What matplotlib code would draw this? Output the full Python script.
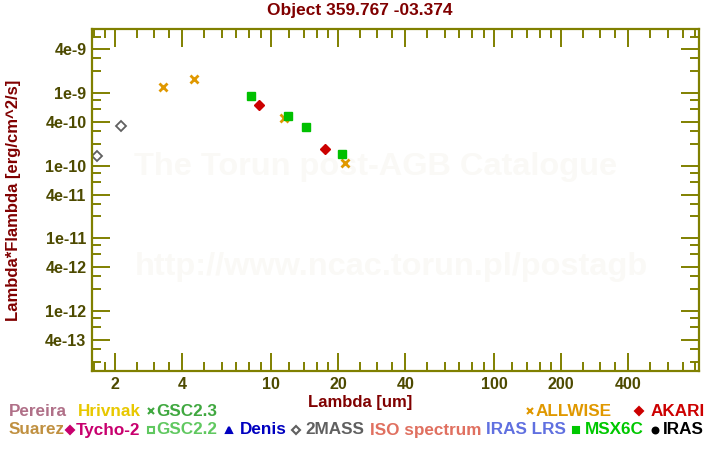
import matplotlib
matplotlib.use('Agg')
import matplotlib.pyplot as plt
from matplotlib.ticker import FixedLocator, NullFormatter

plt.rcParams['font.family'] = ['Liberation Sans', 'DejaVu Sans']
plt.rcParams['font.weight'] = 'bold'

# photometry (wavelength in um, lambda*F_lambda)
allwise_wl = [3.29, 4.53, 11.4, 21.5]
allwise_f = [1.21e-9, 1.56e-9, 4.5e-10, 1.09e-10]
msx_wl = [8.16, 11.9, 14.4, 20.9]
msx_f = [9.1e-10, 4.77e-10, 3.4e-10, 1.45e-10]
akari_wl = [8.87, 17.5]
akari_f = [6.83e-10, 1.7e-10]
twomass_wl = [1.65, 2.13]
twomass_f = [1.34e-10, 3.52e-10]

xticks = [2, 4, 10, 20, 40, 100, 200, 400]
xtick_labels = ['2', '4', '10', '20', '40', '100', '200', '400']
yticks = [4e-13, 1e-12, 4e-12, 1e-11, 4e-11, 1e-10, 4e-10, 1e-9, 4e-9]
ytick_labels = ['4e-13', '1e-12', '4e-12', '1e-11', '4e-11', '1e-10', '4e-10', '1e-9', '4e-9']

olive = '#808000'
ticklab = '#4d4a00'
darkred = '#800000'
W, H = 720, 450

fig = plt.figure(figsize=(7.2, 4.5), dpi=100)
ax = fig.add_axes([92 / W, 1 - 371 / H, 607 / W, 342 / H])

ax.plot(twomass_wl, twomass_f, 'D', ms=5, mfc='white', mec='#606060', mew=1.3, ls='none')
ax.plot(allwise_wl, allwise_f, 'x', ms=6, mec='#e09800', mew=2, ls='none')
ax.plot(msx_wl, msx_f, 's', ms=6, mfc='#00c000', mec='#00c000', ls='none')
ax.plot(akari_wl, akari_f, 'D', ms=5, mfc='#cc0000', mec='#cc0000', ls='none')

ax.set_xscale('log')
ax.set_yscale('log')
ax.set_xlim(1.575, 830)
ax.set_ylim(1.48e-13, 7.65e-9)

ax.set_xticks(xticks)
ax.set_xticklabels(xtick_labels)
ax.set_yticks(yticks)
ax.set_yticklabels(ytick_labels)

xminor = []
for dec in [1, 10, 100]:
    for m in [1.2, 1.4, 1.6, 1.8, 2.5, 3, 3.5, 5, 6, 7, 8, 9]:
        xminor.append(m * dec)
ax.xaxis.set_minor_locator(FixedLocator(xminor))
ax.xaxis.set_minor_formatter(NullFormatter())
yminor = []
for e in range(-14, -7):
    for m in [2, 3, 6, 8]:
        yminor.append(m * 10.0 ** e)
ax.yaxis.set_minor_locator(FixedLocator(yminor))
ax.yaxis.set_minor_formatter(NullFormatter())

ax.tick_params(which='both', direction='in', top=True, right=True, color=olive,
               labelcolor=ticklab, labelsize=11.5)
ax.tick_params(which='major', length=13, width=1.4, pad=4)
ax.tick_params(which='minor', length=6.5, width=1.4)
for s in ax.spines.values():
    s.set_color(olive)
    s.set_linewidth(1.6)
for lab in ax.get_xticklabels() + ax.get_yticklabels():
    lab.set_fontweight('bold')

# watermark
fig.text(375.5 / W, 1 - 175 / H, 'The Torun post-AGB Catalogue', ha='center', va='baseline',
         fontsize=23.4, color='#faf9f6', fontweight='bold', zorder=0)
fig.text(391.5 / W, 1 - 275 / H, 'http://www.ncac.torun.pl/postagb', ha='center', va='baseline',
         fontsize=23.4, color='#faf9f6', fontweight='bold', zorder=0)
ax.set_zorder(1)
ax.patch.set_alpha(0)

fig.text(0.5, 1 - 11 / H, 'Object 359.767 -03.374', ha='center', va='center',
         fontsize=12.5, color=darkred, fontweight='bold')
fig.text(360 / W, 1 - 403 / H, 'Lambda [um]', ha='center', va='center',
         fontsize=12, color=darkred, fontweight='bold')
fig.text(14 / W, 1 - 200 / H, 'Lambda*Flambda [erg/cm^2/s]', ha='center', va='center',
         rotation=90, fontsize=12, color=darkred, fontweight='bold')

# legend: (label, colour, marker, filled, marker x, text x, row y)
legend = [
    ('Pereira', '#b07088', None, True, 0, 9, 411),
    ('Hrivnak', '#e8c800', None, True, 0, 78, 411),
    ('GSC2.3', '#40a840', 'x', True, 151, 156, 411),
    ('ALLWISE', '#e09800', 'x', True, 530, 536, 411),
    ('AKARI', '#cc0000', 'D', True, 639, 651, 411),
    ('Suarez', '#c09040', None, True, 0, 9, 430),
    ('Tycho-2', '#c8006e', 'D', True, 70, 76, 430),
    ('GSC2.2', '#60c860', 's', False, 151, 156, 430),
    ('Denis', '#0000c0', '^', True, 229, 240, 430),
    ('2MASS', '#606060', 'D', False, 296, 305, 430),
    ('ISO spectrum', '#e07060', None, True, 0, 370, 430),
    ('IRAS LRS', '#6070e0', None, True, 0, 486, 430),
    ('MSX6C', '#00c800', 's', True, 576, 585, 430),
    ('IRAS', 'black', 'o', True, 655, 663, 430),
]
for label, col, mk, filled, mx, tx, ry in legend:
    fig.text(tx / W, 1 - ry / H, label, ha='left', va='center', fontsize=12.3,
             color=col, fontweight='bold')
    if mk:
        ms = 5 if mk in ('x', '^') else 4.2
        fig.add_artist(plt.Line2D([mx / W], [1 - ry / H], marker=mk, ms=ms, ls='none',
                                  mfc=col if filled else 'white', mec=col, mew=1.5,
                                  transform=fig.transFigure))

fig.savefig('out.png', dpi=100)
